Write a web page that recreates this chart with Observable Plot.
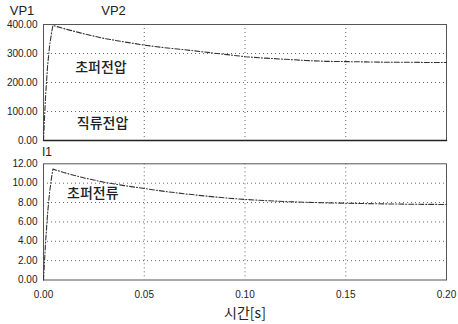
<!DOCTYPE html>
<html><head><meta charset="utf-8">
<script src="https://cdn.jsdelivr.net/npm/d3@7"></script>
<script src="https://cdn.jsdelivr.net/npm/@observablehq/plot@0.6"></script>
<style>body{margin:0;background:#fff} #c svg{display:block}</style>
</head><body><div id="c"></div>
<script>
const time = [0, 0.001, 0.002, 0.003, 0.004, 0.0047, 0.01, 0.02, 0.03, 0.04, 0.05, 0.06, 0.07, 0.08, 0.09, 0.10, 0.11, 0.12, 0.13, 0.14, 0.15, 0.16, 0.17, 0.18, 0.19, 0.20];
const chopperVoltage = [0, 150, 255, 325, 372, 397, 386, 368, 352, 340, 329, 320, 313, 305, 297, 289, 284, 280, 276, 273, 272, 271, 270, 270, 269, 269];
const dcVoltageTime = [0, 0.20];
const dcVoltage = [0, 0];
const chopperCurrent = [0, 3.8, 6.8, 9.0, 10.6, 11.45, 11.1, 10.55, 10.1, 9.75, 9.45, 9.15, 8.9, 8.68, 8.48, 8.32, 8.2, 8.1, 8.03, 7.97, 7.93, 7.89, 7.86, 7.83, 7.81, 7.8];
const xTicks = [0, 0.05, 0.10, 0.15, 0.20];
const vTicks = [0, 100, 200, 300, 400];
const iTicks = [0, 2, 4, 6, 8, 10, 12];
const seriesNames = ["VP1", "VP2", "I1"];
const annotations = ["초퍼전압", "직류전압", "초퍼전류"];
const xLabel = "시간[s]";

const vData = time.map((t, i) => ({t, v: chopperVoltage[i]}));
const dcData = dcVoltageTime.map((t, i) => ({t, v: dcVoltage[i]}));
const iData = time.map((t, i) => ({t, v: chopperCurrent[i]}));

const font = "'Liberation Sans', Arial, sans-serif";
const kfont = "'Noto Sans CJK KR', sans-serif";
const lineStyle = {stroke: "#333", strokeWidth: 1.1, strokeDasharray: "5,2,1,2"};
const gridStyle = {stroke: "#666", strokeOpacity: 1, strokeDasharray: "1,3", strokeWidth: 1};

const topPanel = Plot.plot({
  width: 458, height: 146,
  marginLeft: 43, marginRight: 12, marginTop: 24, marginBottom: 6,
  style: {fontFamily: font, fontSize: "10px", color: "#222", background: "#fff"},
  x: {domain: [0, 0.2], axis: null},
  y: {domain: [0, 400], axis: null},
  marks: [
    Plot.gridY(vTicks.slice(1, -1), gridStyle),
    Plot.gridX(xTicks.slice(1, -1), gridStyle),
    Plot.axisY(vTicks, {tickSize: 0, tickPadding: 6, tickFormat: d => d.toFixed(2), label: null, fontSize: 10}),
    Plot.frame({stroke: "#555"}),
    Plot.line(dcData, {x: "t", y: "v", stroke: "#222", strokeWidth: 1.5}),
    Plot.line(vData, {x: "t", y: "v", ...lineStyle}),
    Plot.text([seriesNames[0]], {frameAnchor: "top-left", dx: -21.5, dy: -14, lineAnchor: "middle", textAnchor: "middle", fontSize: 13, fill: "#222"}),
    Plot.text([seriesNames[1]], {frameAnchor: "top-left", dx: 70, dy: -14, lineAnchor: "middle", textAnchor: "middle", fontSize: 13, fill: "#222"}),
    Plot.text([annotations[0]], {x: 0.0285, y: 250, lineAnchor: "middle", fontSize: 14, fontFamily: kfont, fontWeight: 500, fill: "#222"}),
    Plot.text([annotations[1]], {x: 0.0293, y: 58, lineAnchor: "middle", fontSize: 14, fontFamily: kfont, fontWeight: 500, fill: "#222"})
  ]
});

const bottomPanel = Plot.plot({
  width: 458, height: 178,
  marginLeft: 43, marginRight: 12, marginTop: 17.3, marginBottom: 44.5,
  style: {fontFamily: font, fontSize: "10px", color: "#222", background: "#fff"},
  x: {domain: [0, 0.2], axis: null},
  y: {domain: [0, 12], axis: null},
  marks: [
    Plot.gridY(iTicks.slice(1, -1), gridStyle),
    Plot.gridX(xTicks.slice(1, -1), gridStyle),
    Plot.axisY(iTicks, {tickSize: 0, tickPadding: 6, tickFormat: d => d.toFixed(2), label: null, fontSize: 10}),
    Plot.axisX(xTicks, {tickSize: 0, tickPadding: 11, tickFormat: d => d.toFixed(2), label: null, fontSize: 10}),
    Plot.frame({stroke: "#555"}),
    Plot.line(iData, {x: "t", y: "v", ...lineStyle}),
    Plot.text([seriesNames[2]], {frameAnchor: "top-left", dx: 3.5, dy: -11.5, lineAnchor: "middle", textAnchor: "middle", fontSize: 12, fill: "#222"}),
    Plot.text([annotations[2]], {x: 0.0245, y: 8.95, lineAnchor: "middle", fontSize: 14, fontFamily: kfont, fontWeight: 500, fill: "#222"}),
    Plot.text([xLabel], {x: 0.1, frameAnchor: "bottom", dy: 33.5, lineAnchor: "middle", fontSize: 14, fontFamily: kfont, fill: "#222"})
  ]
});

document.getElementById("c").append(topPanel, bottomPanel);
</script>
</body></html>
